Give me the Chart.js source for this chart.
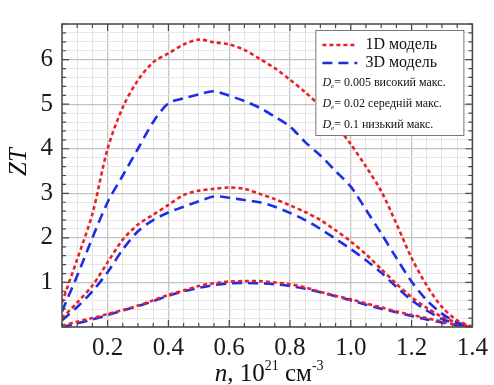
<!DOCTYPE html>
<html>
<head>
<meta charset="utf-8">
<script src="https://cdn.jsdelivr.net/npm/chart.js@4.4.1/dist/chart.umd.min.js"></script>
<style>
  body { margin: 0; background: #fff; }
  #wrap { width: 494px; height: 385px; position: relative; }
</style>
</head>
<body>
<div id="wrap"><canvas id="zt"></canvas></div>
<script>
// n, 10^21 cm^-3
const nValues = [0.05, 0.1, 0.15, 0.2, 0.25, 0.3, 0.35, 0.4, 0.45, 0.5, 0.55, 0.6, 0.65, 0.7,
  0.75, 0.8, 0.85, 0.9, 0.95, 1.0, 1.05, 1.1, 1.15, 1.2, 1.25, 1.3, 1.35, 1.4];

// 1D model (red dotted)
const zt1dHigh = [0.55, 1.52, 2.54, 4.0, 4.93, 5.54, 5.94, 6.14, 6.34, 6.45, 6.39, 6.34, 6.22, 6.02,
  5.81, 5.55, 5.27, 4.95, 4.55, 4.1, 3.6, 3.05, 2.32, 1.55, 0.93, 0.45, 0.15, 0];
const zt1dMid = [0.2, 0.55, 0.93, 1.45, 1.96, 2.3, 2.52, 2.74, 2.96, 3.06, 3.1, 3.13, 3.1, 2.99,
  2.87, 2.73, 2.58, 2.4, 2.17, 1.92, 1.63, 1.3, 0.97, 0.67, 0.43, 0.23, 0.1, 0];
const zt1dLow = [0.03, 0.12, 0.2, 0.29, 0.38, 0.48, 0.6, 0.72, 0.82, 0.92, 0.98, 1.02, 1.03, 1.03,
  1.0, 0.96, 0.89, 0.79, 0.7, 0.62, 0.53, 0.44, 0.35, 0.27, 0.2, 0.12, 0.05, 0];

// 3D model (blue dashed)
const zt3dHigh = [0.35, 1.15, 2.0, 2.8, 3.4, 4.0, 4.6, 5.02, 5.13, 5.22, 5.29, 5.19, 5.07, 4.92,
  4.72, 4.5, 4.15, 3.85, 3.5, 3.15, 2.63, 2.1, 1.55, 1.02, 0.6, 0.3, 0.1, 0];
const zt3dMid = [0.15, 0.45, 0.8, 1.23, 1.74, 2.15, 2.4, 2.57, 2.7, 2.82, 2.93, 2.9, 2.85, 2.8,
  2.7, 2.56, 2.4, 2.2, 1.98, 1.75, 1.5, 1.22, 0.9, 0.6, 0.37, 0.18, 0.07, 0];
const zt3dLow = [0.0, 0.08, 0.17, 0.27, 0.37, 0.47, 0.58, 0.7, 0.8, 0.88, 0.94, 0.98, 0.99, 0.98,
  0.96, 0.92, 0.86, 0.78, 0.69, 0.6, 0.5, 0.41, 0.33, 0.25, 0.17, 0.1, 0.04, 0];

const legendNotes = [
  ['e', '= 0.005 високий макс.'],
  ['e', '= 0.02 середній макс.'],
  ['e', '= 0.1 низький макс.']
];

const RED = '#ec1f27';
const BLUE = '#1e2ee6';
const SERIF = '"Liberation Serif", "DejaVu Serif", serif';

function pts(ys) {
  return ys.map((y, i) => ({ x: nValues[i], y: y }));
}

function redSet(label, ys) {
  return { label: label, data: pts(ys), borderColor: RED, borderWidth: 2.6,
    borderDash: [4, 3], pointRadius: 0, tension: 0.3, fill: false };
}
function blueSet(label, ys) {
  return { label: label, data: pts(ys), borderColor: BLUE, borderWidth: 2.6,
    borderDash: [10, 6], pointRadius: 0, tension: 0.3, fill: false };
}

const isMajor = (v, step) => Math.abs(v / step - Math.round(v / step)) < 1e-6;

// frame, inner ticks, legend box and axis titles
const decorations = {
  id: 'decorations',
  afterDatasetsDraw(chart) {
    const { ctx, chartArea: a, scales } = chart;
    ctx.save();
    // frame
    ctx.strokeStyle = '#4a4a4a';
    ctx.lineWidth = 1.5;
    ctx.strokeRect(a.left, a.top, a.right - a.left, a.bottom - a.top);
    // inner ticks on all four sides
    ctx.lineWidth = 1.2;
    ctx.beginPath();
    scales.x.ticks.forEach(t => {
      const px = scales.x.getPixelForValue(t.value);
      const len = isMajor(t.value, 0.2) ? 7 : 4;
      ctx.moveTo(px, a.bottom); ctx.lineTo(px, a.bottom - len);
      ctx.moveTo(px, a.top); ctx.lineTo(px, a.top + len);
    });
    scales.y.ticks.forEach(t => {
      const py = scales.y.getPixelForValue(t.value);
      const len = isMajor(t.value, 1) ? 7 : 4;
      ctx.moveTo(a.left, py); ctx.lineTo(a.left + len, py);
      ctx.moveTo(a.right, py); ctx.lineTo(a.right - len, py);
    });
    ctx.stroke();

    // legend
    const bx = a.right - 157, by = a.top + 6, bw = 148, bh = 105;
    ctx.fillStyle = '#fff';
    ctx.fillRect(bx, by, bw, bh);
    ctx.strokeStyle = '#777';
    ctx.lineWidth = 1;
    ctx.strokeRect(bx + 0.5, by + 0.5, bw, bh);
    const items = chart.data.datasets.filter(d => d.showInLegend);
    items.forEach((d, i) => {
      const y = by + 15 + i * 18;
      ctx.strokeStyle = d.borderColor;
      ctx.lineWidth = 2.6;
      ctx.setLineDash(d.borderDash);
      ctx.beginPath();
      ctx.moveTo(bx + 7, y); ctx.lineTo(bx + 42, y);
      ctx.stroke();
      ctx.setLineDash([]);
      ctx.fillStyle = '#111';
      ctx.font = '16px ' + SERIF;
      ctx.textBaseline = 'middle';
      ctx.textAlign = 'left';
      ctx.fillText(d.label, bx + 50, y);
    });
    legendNotes.forEach((note, i) => {
      const y = by + 56 + i * 21;
      let x = bx + 7;
      ctx.fillStyle = '#111';
      ctx.textBaseline = 'alphabetic';
      ctx.font = 'italic 12px ' + SERIF;
      ctx.fillText('D', x, y);
      x += ctx.measureText('D').width;
      ctx.font = 'italic 7px ' + SERIF;
      ctx.fillText(note[0], x, y + 2);
      x += ctx.measureText(note[0]).width;
      ctx.font = '12px ' + SERIF;
      ctx.fillText(note[1], x, y);
    });

    // x title: n, 10^21 см^-3
    ctx.fillStyle = '#111';
    ctx.textBaseline = 'alphabetic';
    const parts = [
      ['italic 25px ' + SERIF, 'n', 0],
      ['25px ' + SERIF, ', 10', 0],
      ['14px ' + SERIF, '21', -11],
      ['25px ' + SERIF, ' см', 0],
      ['14px ' + SERIF, '-3', -11]
    ];
    let total = 0;
    parts.forEach(p => { ctx.font = p[0]; total += ctx.measureText(p[1]).width; });
    let x = (a.left + a.right) / 2 - total / 2 + 2;
    const base = 381;
    parts.forEach(p => {
      ctx.font = p[0];
      ctx.fillText(p[1], x, base + p[2]);
      x += ctx.measureText(p[1]).width;
    });

    // y title
    ctx.translate(19, 162);
    ctx.rotate(-Math.PI / 2);
    ctx.font = 'italic 25px ' + SERIF;
    ctx.textAlign = 'center';
    ctx.textBaseline = 'middle';
    ctx.fillText('ZT', 0, 0);
    ctx.restore();
  }
};

const datasets = [
  Object.assign(redSet('1D модель', zt1dHigh), { showInLegend: true }),
  Object.assign(blueSet('3D модель', zt3dHigh), { showInLegend: true }),
  redSet('1D модель', zt1dMid),
  blueSet('3D модель', zt3dMid),
  redSet('1D модель', zt1dLow),
  blueSet('3D модель', zt3dLow)
];

new Chart(document.getElementById('zt'), {
  type: 'line',
  data: { datasets: datasets },
  options: {
    responsive: true,
    maintainAspectRatio: false,
    animation: false,
    layout: { padding: { top: 14, right: 19, left: 0, bottom: 0 } },
    plugins: { legend: { display: false }, tooltip: { enabled: false } },
    scales: {
      x: {
        type: 'linear',
        min: 0.05,
        max: 1.4,
        afterFit(scale) { scale.height = 58; },
        border: { display: false },
        grid: {
          drawTicks: false,
          color: c => isMajor(c.tick.value, 0.2) ? '#c4c4c4' : '#e4e4e4',
          lineWidth: c => isMajor(c.tick.value, 0.2) ? 1.3 : 1
        },
        ticks: {
          stepSize: 0.05,
          autoSkip: false,
          maxRotation: 0,
          padding: 6,
          color: '#1a1a1a',
          font: { family: SERIF, size: 25 },
          callback: v => isMajor(v, 0.2) ? v.toFixed(1) : ''
        }
      },
      y: {
        min: 0,
        max: 6.8,
        afterFit(scale) { scale.width = 62; },
        border: { display: false },
        grid: {
          drawTicks: false,
          color: c => isMajor(c.tick.value, 1) ? '#c4c4c4' : '#e8e8e8',
          lineWidth: c => isMajor(c.tick.value, 1) ? 1.3 : 1
        },
        ticks: {
          stepSize: 0.2,
          autoSkip: false,
          padding: 9,
          color: '#1a1a1a',
          font: { family: SERIF, size: 25 },
          callback: v => (isMajor(v, 1) && v > 0.5) ? String(Math.round(v)) : ''
        }
      }
    }
  },
  plugins: [decorations]
});
</script>
</body>
</html>
